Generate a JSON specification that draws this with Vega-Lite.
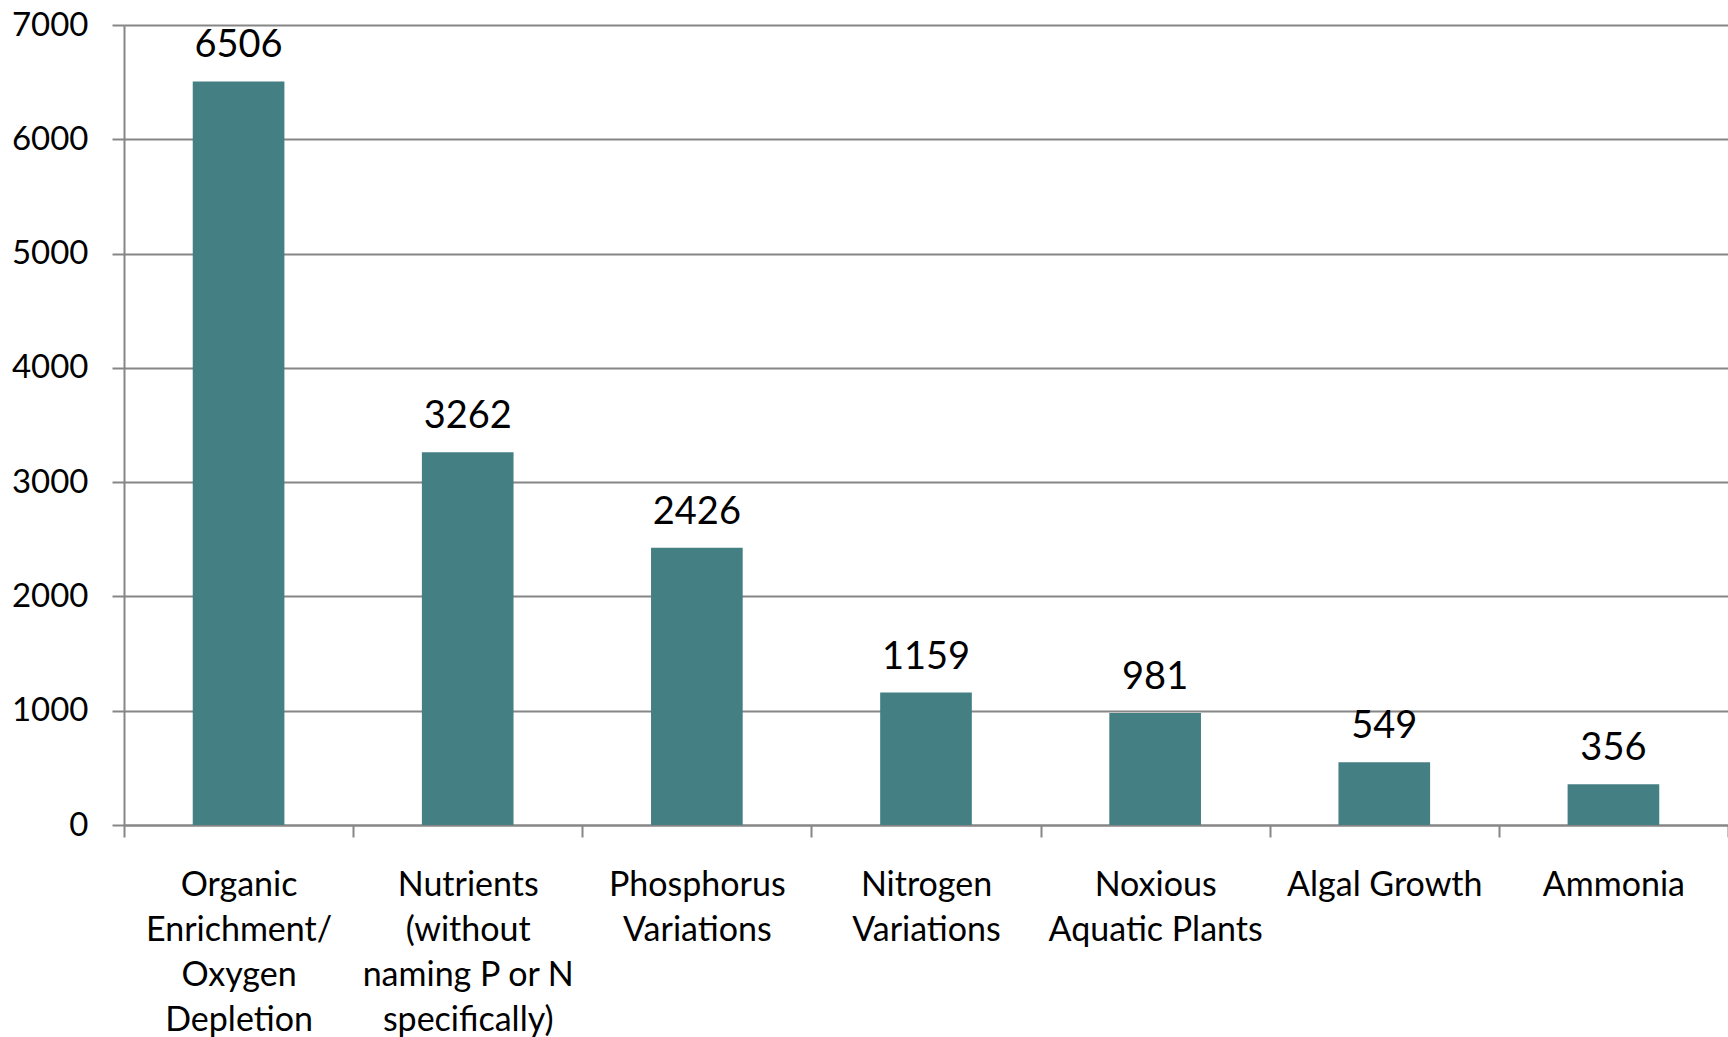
{
  "$schema": "https://vega.github.io/schema/vega-lite/v6.json",
  "width": 1604,
  "height": 800,
  "autosize": {"type": "none"},
  "padding": {"left": 124, "top": 25, "right": 0, "bottom": 212},
  "background": "white",
  "config": {"view": {"stroke": null}, "font": "Lato"},
  "data": {
    "values": [
      {"category": "Organic Enrichment/Oxygen Depletion", "count": 6506},
      {"category": "Nutrients (without naming P or N specifically)", "count": 3262},
      {"category": "Phosphorus Variations", "count": 2426},
      {"category": "Nitrogen Variations", "count": 1159},
      {"category": "Noxious Aquatic Plants", "count": 981},
      {"category": "Algal Growth", "count": 549},
      {"category": "Ammonia", "count": 356}
    ]
  },
  "encoding": {
    "x": {
      "field": "category",
      "type": "nominal",
      "sort": null,
      "scale": {"paddingInner": 0, "paddingOuter": 0},
      "axis": {
        "title": null,
        "labelAngle": 0,
        "labelFont": "Lato",
        "labelFontSize": 34,
        "labelColor": "black",
        "labelLineHeight": 45,
        "labelPadding": 31,
        "labelLimit": 400,
        "labelBaseline": "top",
        "tickBand": "extent",
        "tickSize": 12,
        "tickColor": "#868686",
        "tickWidth": 2,
        "domainColor": "#868686",
        "domainWidth": 2,
        "grid": false,
        "labelExpr": "datum.label == 'Organic Enrichment/Oxygen Depletion' ? ['Organic', 'Enrichment/', 'Oxygen', 'Depletion'] : datum.label == 'Nutrients (without naming P or N specifically)' ? ['Nutrients', '(without', 'naming P or N', 'specifically)'] : datum.label == 'Phosphorus Variations' ? ['Phosphorus', 'Variations'] : datum.label == 'Nitrogen Variations' ? ['Nitrogen', 'Variations'] : datum.label == 'Noxious Aquatic Plants' ? ['Noxious', 'Aquatic Plants'] : datum.label"
      }
    },
    "y": {
      "field": "count",
      "type": "quantitative",
      "scale": {"domain": [0, 7000], "nice": false},
      "axis": {
        "title": null,
        "values": [0, 1000, 2000, 3000, 4000, 5000, 6000, 7000],
        "format": "d",
        "labelFont": "Lato",
        "labelFontSize": 33,
        "labelColor": "black",
        "labelPadding": 24,
        "tickSize": 12,
        "tickColor": "#868686",
        "tickWidth": 2,
        "domainColor": "#868686",
        "domainWidth": 2,
        "gridColor": "#868686",
        "gridWidth": 2
      }
    }
  },
  "layer": [
    {"mark": {"type": "bar", "color": "#447F84", "width": {"band": 0.4}}},
    {
      "mark": {"type": "text", "baseline": "alphabetic", "dy": -24, "fontSize": 38, "font": "Lato", "color": "black"},
      "encoding": {"text": {"field": "count", "type": "quantitative", "format": "d"}}
    }
  ]
}
